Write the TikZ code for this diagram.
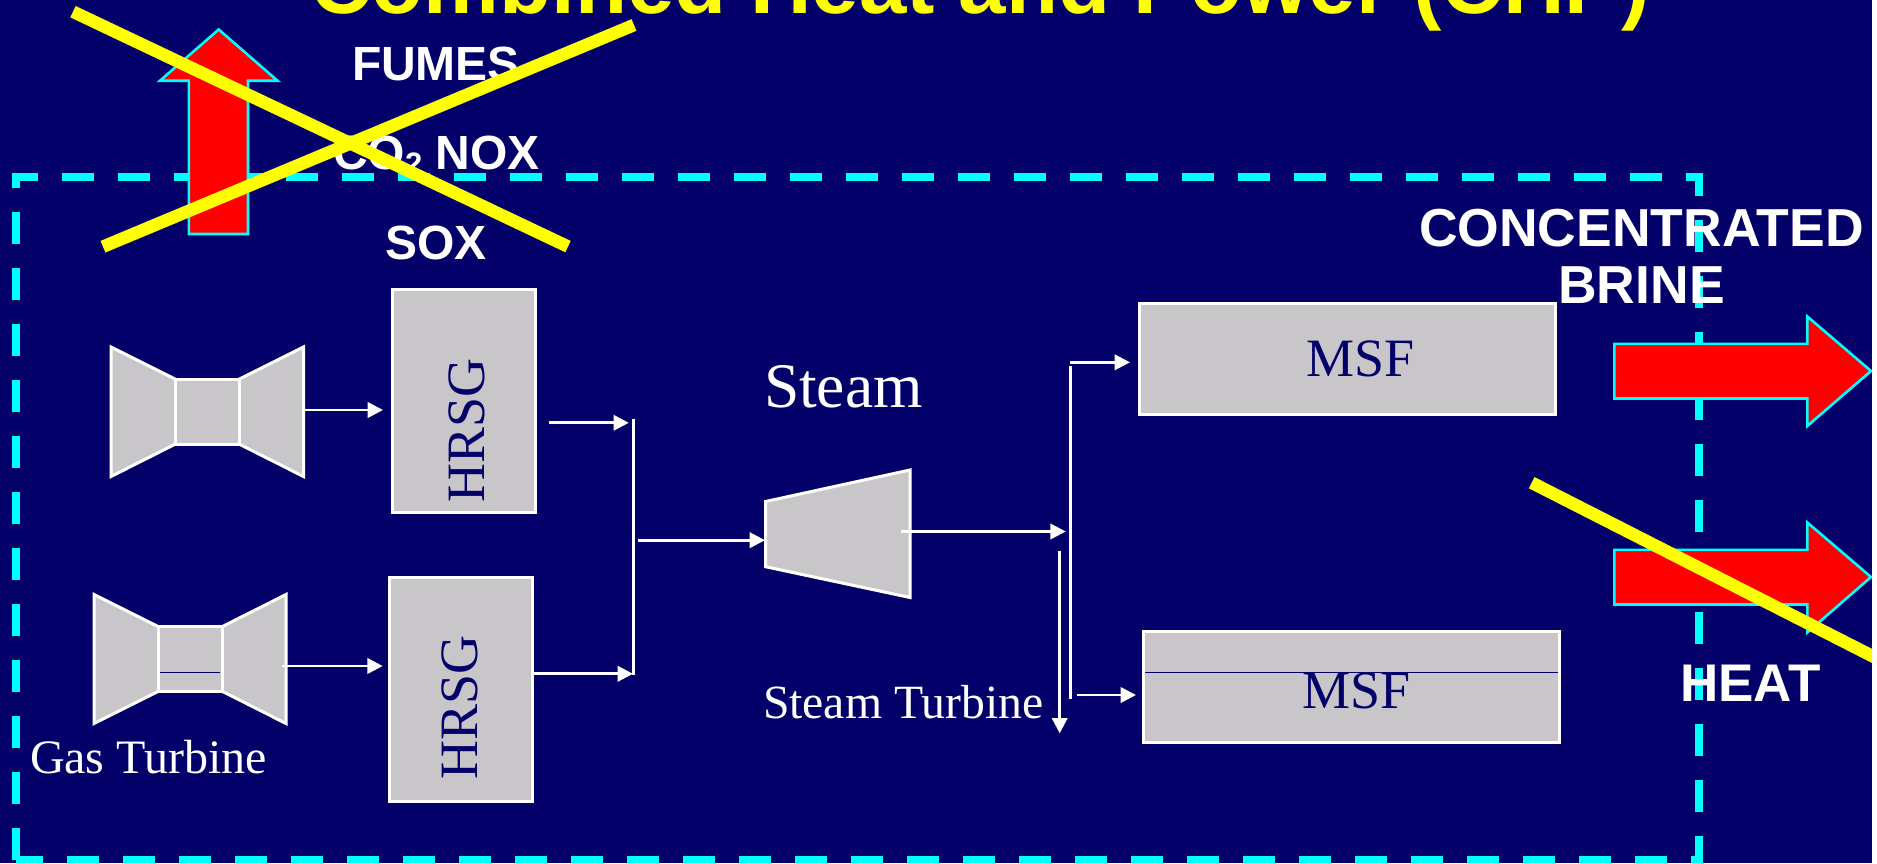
\documentclass[tikz,border=0pt]{standalone}
\usepackage{fontspec}
\setmainfont{Liberation Serif}
\newfontfamily\arialfont{Liberation Sans}
\usetikzlibrary{arrows.meta}
\definecolor{bgnavy}{RGB}{4,0,106}
\definecolor{boxgrey}{RGB}{200,198,201}
\definecolor{purecyan}{RGB}{0,255,255}
\definecolor{pureyellow}{RGB}{255,255,0}
\definecolor{purered}{RGB}{255,0,0}
\tikzset{
  sized/.style={inner sep=0pt,outer sep=0pt},
  labelsans/.style={sized,text=white,font=\arialfont\bfseries\fontsize{#1}{#1}\selectfont},
  labelserif/.style={sized,text=white,font=\fontsize{#1}{#1}\selectfont},
  boxlabel/.style={sized,text=bgnavy,font=\fontsize{#1}{#1}\selectfont},
  unit/.style={draw=white,fill=boxgrey,line width=3pt,line join=miter},
  flow/.style={draw=white,line width=2.7pt,-{Triangle[length=15.3pt,width=15.3pt]}},
  bar/.style={draw=white,line width=2.8pt},
  seam/.style={draw=bgnavy,line width=1.3pt},
  redarrow/.style={draw=purecyan,fill=purered,line width=2.6pt,line join=miter},
  cross/.style={draw=pureyellow,line width=12.6pt},
  boundary/.style={draw=purecyan,line width=7.5pt,dash pattern=on 32pt off 24pt}
}
\begin{document}
\begin{tikzpicture}[x=1pt,y=-1pt]
\useasboundingbox (0,0) rectangle (1877,863);
\fill[white] (0,0) rectangle (1877,863);
\begin{scope}
\clip (0,0) rectangle (1872,863);
\fill[bgnavy] (0,0) rectangle (1872,863);

% system boundary
\draw[boundary] (16,859.5) -- (16,177) -- (1699,177) -- (1699,859.5) -- cycle;

% title
\node[sized,anchor=base,text=pureyellow,font=\arialfont\bfseries\fontsize{85.2}{85}\selectfont] (title) at (980,13) {Combined Heat and Power (CHP)};

% red arrows
\draw[redarrow] (218.7,29.5) -- (277.5,80.7) -- (248,80.7) -- (248,234) -- (188.8,234) -- (188.8,80.7) -- (160,80.7) -- cycle;
\draw[redarrow] (1614.3,343.8) -- (1807.3,343.8) -- (1807.3,316.5) -- (1871,371) -- (1807.3,426) -- (1807.3,398.5) -- (1614.3,398.5) -- cycle;
\draw[redarrow] (1614.3,549.8) -- (1807.3,549.8) -- (1807.3,522.5) -- (1871,577) -- (1807.3,632.5) -- (1807.3,604.5) -- (1614.3,604.5) -- cycle;

% gas turbine 1
\draw[unit] (111,347) -- (175.5,379.2) -- (175.5,444) -- (111,476.5) -- cycle;
\draw[unit] (303.5,347) -- (239,379.2) -- (239,444) -- (303.5,476.5) -- cycle;
\node[unit,sized,minimum width=63.5pt,minimum height=64.8pt] (gt1) at (207.25,411.6) {};
\coordinate (gt1out) at (304,410);

% gas turbine 2
\draw[unit] (94,594.5) -- (158.5,626.7) -- (158.5,691.2) -- (94,723.5) -- cycle;
\draw[unit] (286,594.5) -- (222,626.7) -- (222,691.2) -- (286,723.5) -- cycle;
\node[unit,sized,minimum width=63.5pt,minimum height=64.5pt] (gt2) at (190.25,659) {};
\draw[seam] (159.6,672.8) -- (220.4,672.8);
\coordinate (gt2out) at (282,666);

% HRSG boxes
\node[unit,sized,minimum width=143.5pt,minimum height=223.7pt] (hrsg1) at (464,401) {};
\node[unit,sized,minimum width=143.5pt,minimum height=223.6pt] (hrsg2) at (461,689.5) {};
\node[boxlabel=54,rotate=90,anchor=base] (hrsg1t) at (484.5,430) {HRSG};
\node[boxlabel=54,rotate=90,anchor=base] (hrsg2t) at (477,707) {HRSG};

% steam turbine
\draw[unit] (765.5,501.5) -- (910,470) -- (910,597.5) -- (765.5,566.7) -- cycle;
\coordinate (stin) at (765,540.2);
\coordinate (stout) at (901,531.5);

% MSF boxes
\node[unit,sized,minimum width=415.4pt,minimum height=111.3pt] (msf1) at (1347.5,359.2) {};
\node[unit,sized,minimum width=415.7pt,minimum height=111.4pt] (msf2) at (1351.7,686.9) {};
\node[boxlabel=54,anchor=base] (msf1t) at (1360.5,376.5) {MSF};
\node[boxlabel=54,anchor=base] (msf2t) at (1356.5,708.5) {MSF};
\draw[seam] (1145,672.8) -- (1558,672.8);

% collectors
\coordinate (colAtop) at (633.3,418.8);
\coordinate (colAbot) at (633.3,675);
\coordinate (colBtop) at (1070.3,366);
\coordinate (colBbot) at (1070.3,699);
\draw[bar] (colAtop) -- (colAbot);
\draw[bar] (colBtop) -- (colBbot);

% flows
\coordinate (h1out) at (548.8,422.8);
\coordinate (h1in) at (628.8,422.8);
\coordinate (h2out) at (534,673.8);
\coordinate (h2in) at (633,673.8);
\coordinate (cmid) at (637.7,540.2);
\coordinate (gt1tip) at (383,410);
\coordinate (gt2tip) at (382.7,666);
\coordinate (sttip) at (1065.7,531.5);
\coordinate (drain) at (1059.7,550.7);
\coordinate (draintip) at (1059.7,733.3);
\coordinate (m1from) at (1070.3,362.3);
\coordinate (m1tip) at (1130,362.3);
\coordinate (m2from) at (1077,695);
\coordinate (m2tip) at (1136,695);
\draw[flow] (gt1out) -- (gt1tip);
\draw[flow] (gt2out) -- (gt2tip);
\draw[flow] (h1out) -- (h1in);
\draw[flow] (h2out) -- (h2in);
\draw[flow] (cmid) -- (stin);
\draw[flow] (stout) -- (sttip);
\draw[flow] (drain) -- (draintip);
\draw[flow] (m1from) -- (m1tip);
\draw[flow] (m2from) -- (m2tip);

% labels
\node[labelsans=48,anchor=base west] (fumes) at (352,80) {FUMES};
\node[labelsans=48,anchor=base west] (co2) at (333,169) {CO\raisebox{-5pt}{\fontsize{31}{31}\selectfont 2} NOX};
\node[labelsans=48,anchor=base west] (sox) at (385,259.5) {SOX};
\node[labelsans=53.5,anchor=base] (conc) at (1641.5,246) {CONCENTRATED};
\node[labelsans=53.5,anchor=base] (brine) at (1641.5,303) {BRINE};
\node[labelsans=53,anchor=base] (heat) at (1750.5,701) {HEAT};
\node[labelserif=48,anchor=base west] (gtl) at (30,773.5) {Gas Turbine};
\node[labelserif=47.7,anchor=base west] (stl) at (763,718) {Steam Turbine};
\node[labelserif=63.5,anchor=base west] (steam) at (764,407.5) {Steam};

% crossing-out strokes
\coordinate (xa1) at (73,11.7);
\coordinate (xa2) at (568,246.6);
\coordinate (xb1) at (103,246.7);
\coordinate (xb2) at (634,25);
\coordinate (xc1) at (1531.7,482.7);
\coordinate (xc2) at (1880,660);
\draw[cross] (xa1) -- (xa2);
\draw[cross] (xb1) -- (xb2);
\draw[cross] (xc1) -- (xc2);
\end{scope}
\end{tikzpicture}
\end{document}
